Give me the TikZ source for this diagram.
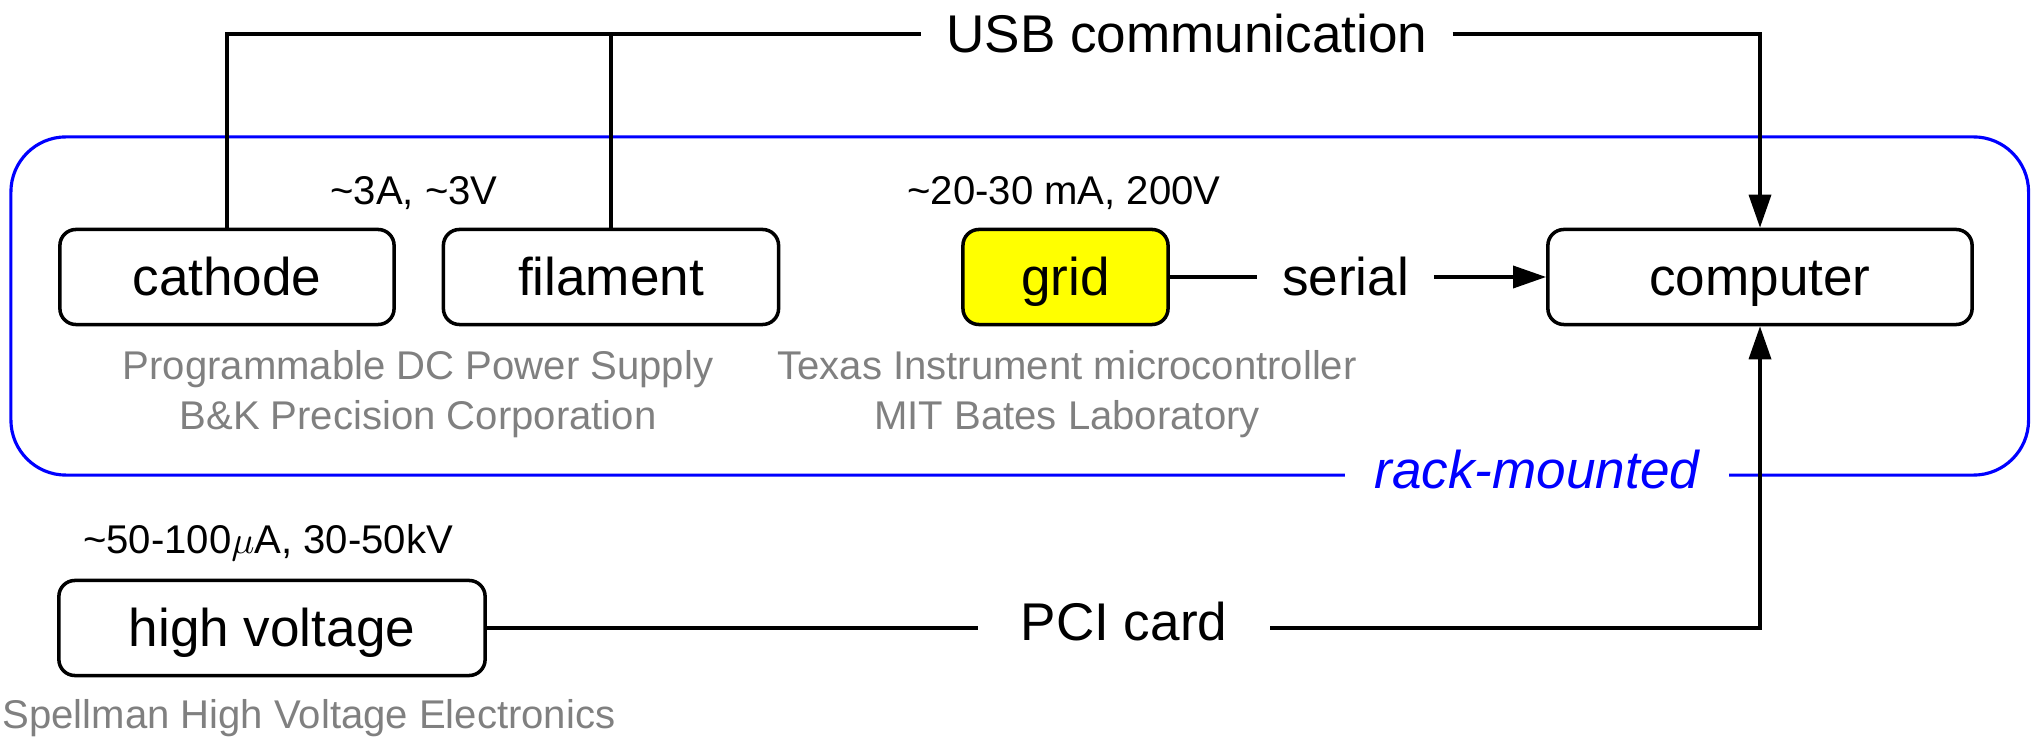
\documentclass[tikz,border=0pt]{standalone}
\usepackage{fontspec}
\setmainfont{Liberation Sans}
\usetikzlibrary{arrows.meta}
\definecolor{notegray}{RGB}{128,128,128}
\definecolor{rackblue}{RGB}{0,0,255}
\definecolor{gridyellow}{RGB}{255,255,0}
\begin{document}
\begin{tikzpicture}[x=0.01cm,y=-0.01cm,
  big/.style={font=\fontsize{15.1}{18}\selectfont},
  bigit/.style={font=\fontsize{15.1}{18}\selectfont\itshape},
  small/.style={font=\fontsize{11.4}{14}\selectfont},
  box/.style={draw, line width=1pt, rounded corners=0.16cm, big, minimum height=0.95cm, text height=0.38cm, text depth=0.02cm, inner sep=0pt},
  conn/.style={line width=1pt},
  arr/.style={conn, -{Triangle[length=0.33cm,width=0.22cm]}},
  clabel/.style={big, text height=0.38cm, text depth=0.02cm, inner xsep=0.25cm, inner ysep=0pt, outer sep=0pt},
  note/.style={small, anchor=base, inner sep=0pt},
  maker/.style={small, anchor=base, inner sep=0pt, text=notegray},
]
\useasboundingbox (0,0) rectangle (2035,740);
% rack enclosure
\node[draw=rackblue, line width=0.9pt, rounded corners=0.55cm, minimum width=20.165cm, minimum height=3.38cm, inner sep=0pt] (rack) at (1019.75,306) {};
\node[bigit, text=rackblue, fill=white, text height=0.38cm, text depth=0.02cm, inner xsep=0.3cm, inner ysep=2pt] (rackname) at (1537,470) {rack-mounted};
% boxes
\node[box, minimum width=3.34cm] (cathode) at (227,277) {cathode};
\node[box, minimum width=3.35cm] (filament) at (611,277) {filament};
\node[box, minimum width=2.05cm, fill=gridyellow] (grid) at (1065.5,277) {grid};
\node[box, minimum width=4.24cm] (computer) at (1760,277) {computer};
\node[box, minimum width=4.26cm] (hv) at (272,628) {high voltage};
% connector labels
\node[clabel] (usb) at (1187,34) {USB communication};
\node[clabel] (serial) at (1345.5,277) {serial};
\node[clabel, inner xsep=0.43cm] (pci) at (1124,622) {PCI card};
% notes
\node[note] (n1) at (414,205) {\textasciitilde 3A, \textasciitilde 3V};
\node[note] (n2) at (1064,205) {\textasciitilde 20-30 mA, 200V};
\node[note] (n3) at (268,554) {\textasciitilde 50-100$\mu$A, 30-50kV};
\node[maker] (m1) at (418,380) {Programmable DC Power Supply};
\node[maker] (m2) at (418,430) {B\&K Precision Corporation};
\node[maker] (m3) at (1067,380) {Texas Instrument microcontroller};
\node[maker] (m4) at (1067,430) {MIT Bates Laboratory};
\node[maker] (m5) at (309,729) {Spellman High Voltage Electronics};
% connectors
\draw[conn] (cathode.north) |- (usb.west);
\draw[conn] (filament.north) -- (filament.north |- usb.west);
\draw[arr] (usb.east) -| (computer.north);
\draw[conn] (grid.east) -- (serial.west);
\draw[arr] (serial.east) -- (computer.west);
\draw[conn] (hv.east) -- (hv.east -| pci.west);
\draw[arr] (pci.east |- hv.east) -| (computer.south);
\end{tikzpicture}
\end{document}
